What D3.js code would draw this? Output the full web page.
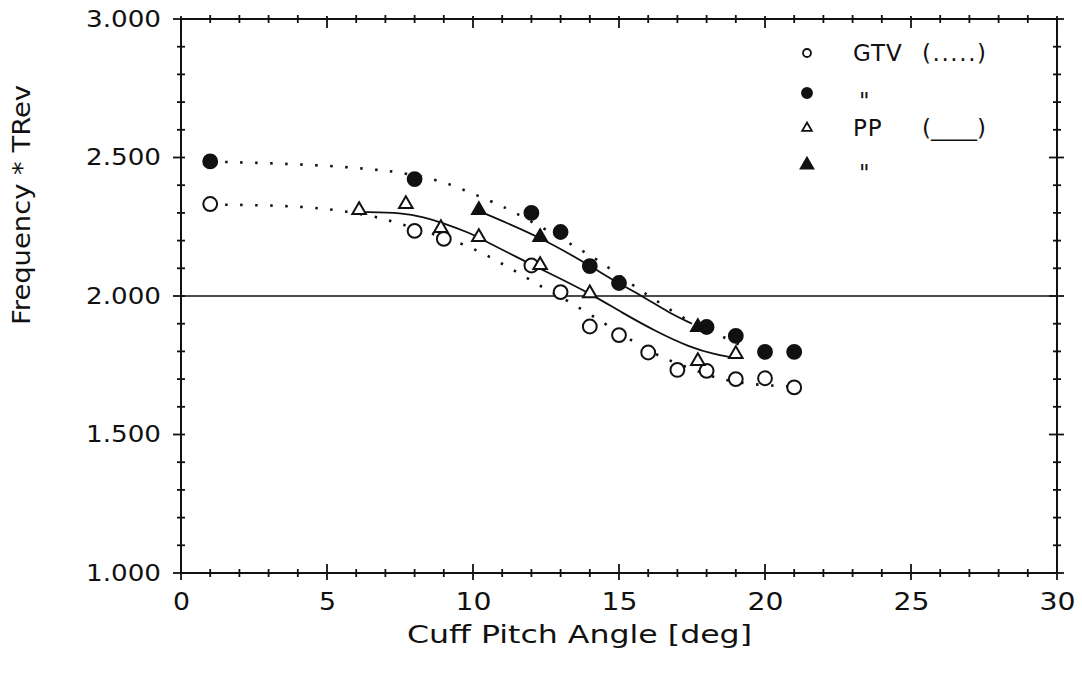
<!DOCTYPE html>
<meta charset="utf-8">
<body style="margin:0;background:#fff">
<div id="box"></div>
<script src="https://d3js.org/d3.v7.min.js"></script>
<script>
// measured points (x in deg, y in Frequency*TRev)
var gtvOpenX = [1, 8, 9, 12, 13, 14, 15, 16, 17, 18, 19, 20, 21];
var gtvOpenY = [2.332, 2.235, 2.206, 2.110, 2.014, 1.890, 1.859, 1.796, 1.733, 1.730, 1.700, 1.703, 1.670];
var gtvFillX = [1, 8, 12, 13, 14, 15, 18, 19, 20, 21];
var gtvFillY = [2.486, 2.422, 2.300, 2.231, 2.108, 2.047, 1.888, 1.856, 1.798, 1.798];
var ppOpenX = [6.1, 7.7, 8.9, 10.2, 12.3, 14.0, 17.7, 19.0];
var ppOpenY = [2.310, 2.332, 2.245, 2.213, 2.112, 2.010, 1.765, 1.790];
var ppFillX = [10.2, 12.3, 17.7];
var ppFillY = [2.310, 2.213, 1.888];

// fitted curves
var gtvOpenFitX = [1, 3, 5, 6.75, 7.2, 8.0, 9.66, 10.6, 11.5, 12.4, 13.3, 14.6, 15.5, 16.4, 17.4, 18.4, 19.4, 20.4, 21];
var gtvOpenFitY = [2.330, 2.328, 2.318, 2.285, 2.270, 2.245, 2.190, 2.140, 2.087, 2.030, 1.980, 1.895, 1.834, 1.780, 1.740, 1.700, 1.682, 1.676, 1.672];
var gtvFillFitX = [1, 3, 5.2, 6.75, 7.3, 8.8, 9.7, 10.65, 11.1, 12.5, 13.4, 14.3, 15.5, 16.4, 17.3, 18.3, 19.2];
var gtvFillFitY = [2.485, 2.480, 2.470, 2.455, 2.450, 2.420, 2.383, 2.340, 2.320, 2.240, 2.184, 2.130, 2.036, 1.975, 1.913, 1.866, 1.820];
var ppOpenFitX = [6.2, 7.6, 8.3, 9.0, 9.9, 10.2, 11.5, 12.6, 14, 15.1, 16.3, 17.4, 18.35, 18.8];
var ppOpenFitY = [2.303, 2.300, 2.285, 2.263, 2.227, 2.210, 2.140, 2.083, 2.010, 1.940, 1.870, 1.816, 1.787, 1.780];
var ppFillFitX = [10.35, 12.3, 14, 14.9, 15.8, 16.7, 17.5];
var ppFillFitY = [2.300, 2.213, 2.110, 2.050, 2.000, 1.940, 1.900];

var xTicks = [0, 5, 10, 15, 20, 25, 30];
var yTicks = [1.0, 1.5, 2.0, 2.5, 3.0];
var refY = 2.0;

var width = 1082, height = 681;
var plotL = 181, plotR = 1057, plotT = 19, plotB = 573;
var font = "'DejaVu Sans', sans-serif";
var ink = "#111";

var svg = d3.select("#box").append("svg")
  .attr("width", width)
  .attr("height", height);

var x = d3.scaleLinear().domain([0, 30]).range([plotL, plotR]);
var y = d3.scaleLinear().domain([1, 3]).range([plotB, plotT]);

function zip(xs, ys) {
  return xs.map(function(v, i) { return [v, ys[i]]; });
}

// frame
svg.append("rect")
  .attr("x", plotL).attr("y", plotT)
  .attr("width", plotR - plotL).attr("height", plotB - plotT)
  .attr("fill", "none").attr("stroke", ink).attr("stroke-width", 2);

// tick crosses on all four sides
var xMinor = d3.range(0, 31, 1);
var yMinor = d3.range(10, 31, 1).map(function(d) { return d / 10; });

var ticks = svg.append("g").attr("stroke", ink).attr("stroke-width", 1.8);
xMinor.forEach(function(v) {
  var major = v % 5 === 0;
  ticks.append("line")
    .attr("x1", x(v)).attr("x2", x(v))
    .attr("y1", plotB - (major ? 9 : 4)).attr("y2", plotB + (major ? 7 : 4));
  ticks.append("line")
    .attr("x1", x(v)).attr("x2", x(v))
    .attr("y1", plotT - (major ? 3 : 4)).attr("y2", plotT + (major ? 9 : 4));
});
yMinor.forEach(function(v) {
  var major = Math.round(v * 10) % 5 === 0;
  ticks.append("line")
    .attr("y1", y(v)).attr("y2", y(v))
    .attr("x1", plotL - (major ? 8 : 4)).attr("x2", plotL + 4);
  ticks.append("line")
    .attr("y1", y(v)).attr("y2", y(v))
    .attr("x1", plotR - (major ? 8 : 4)).attr("x2", plotR + (major ? 7 : 4));
});

// tick labels through the axis generators
var xAxis = svg.append("g")
  .attr("transform", "translate(0," + plotB + ")")
  .call(d3.axisBottom(x).tickValues(xTicks).tickSize(0).tickPadding(19).tickFormat(d3.format("d")));
var yAxis = svg.append("g")
  .attr("transform", "translate(" + plotL + ",0)")
  .call(d3.axisLeft(y).tickValues(yTicks).tickSize(0).tickPadding(20).tickFormat(d3.format(".3f")));
xAxis.select(".domain").remove();
yAxis.select(".domain").remove();
xAxis.selectAll("text")
  .style("font-family", font)
  .style("font-size", "25px")
  .attr("textLength", function(d) { return String(d).length === 1 ? 17 : 36; })
  .attr("lengthAdjust", "spacingAndGlyphs")
  .attr("fill", ink);
yAxis.selectAll("text")
  .style("font-family", font)
  .style("font-size", "23px")
  .attr("textLength", 75)
  .attr("lengthAdjust", "spacingAndGlyphs")
  .attr("fill", ink);

// reference line
svg.append("line")
  .attr("x1", x(0)).attr("x2", x(30))
  .attr("y1", y(refY)).attr("y2", y(refY))
  .attr("stroke", ink).attr("stroke-width", 1.6);

// curves
var path = d3.line()
  .x(function(d) { return x(d[0]); })
  .y(function(d) { return y(d[1]); })
  .curve(d3.curveBasis);

[[gtvOpenFitX, gtvOpenFitY], [gtvFillFitX, gtvFillFitY]].forEach(function(c) {
  svg.append("path")
    .attr("d", path(zip(c[0], c[1])))
    .attr("fill", "none").attr("stroke", ink)
    .attr("stroke-width", 2.6).attr("stroke-dasharray", "2.5,12.5");
});
[[ppOpenFitX, ppOpenFitY], [ppFillFitX, ppFillFitY]].forEach(function(c) {
  svg.append("path")
    .attr("d", path(zip(c[0], c[1])))
    .attr("fill", "none").attr("stroke", ink)
    .attr("stroke-width", 1.8);
});

// markers
var circ = d3.symbol().type(d3.symbolCircle).size(150);
var tri = d3.symbol().type(d3.symbolTriangle).size(80);

function markers(xs, ys, sym, filled) {
  svg.append("g").selectAll("path")
    .data(zip(xs, ys))
    .enter().append("path")
    .attr("transform", function(d) { return "translate(" + x(d[0]) + "," + y(d[1]) + ")"; })
    .attr("d", sym)
    .attr("fill", filled ? ink : "#fff")
    .attr("stroke", ink)
    .attr("stroke-width", 2);
}
markers(gtvOpenX, gtvOpenY, circ, false);
markers(gtvFillX, gtvFillY, circ, true);
markers(ppOpenX, ppOpenY, tri, false);
markers(ppFillX, ppFillY, tri, true);

// legend
var legend = [
  { sym: d3.symbolCircle, size: 50, fill: false, label: "GTV", style: "(.....)", y: 53 },
  { sym: d3.symbolCircle, size: 80, fill: true, label: "\"", style: "", y: 93 },
  { sym: d3.symbolTriangle, size: 40, fill: false, label: "PP", style: "(____)", y: 128 },
  { sym: d3.symbolTriangle, size: 70, fill: true, label: "\"", style: "", y: 165 }
];
var lg = svg.append("g");
legend.forEach(function(d) {
  var ditto = d.label === "\"";
  lg.append("path")
    .attr("transform", "translate(807," + d.y + ")")
    .attr("d", d3.symbol().type(d.sym).size(d.size)())
    .attr("fill", d.fill ? ink : "#fff")
    .attr("stroke", ink).attr("stroke-width", 1.8);
  lg.append("text")
    .attr("x", ditto ? 859 : 853)
    .attr("y", d.y + (ditto ? 16 : 8))
    .style("font-family", font).style("font-size", "23px")
    .style("letter-spacing", "1px")
    .attr("fill", ink)
    .text(d.label);
  if (d.style) {
    lg.append("text")
      .attr("x", 922).attr("y", d.y + 8)
      .style("font-family", font).style("font-size", "23px")
      .attr("textLength", 64)
      .attr("lengthAdjust", "spacing")
      .attr("fill", ink)
      .text(d.style);
  }
});

// axis titles
svg.append("text")
  .attr("x", 407).attr("y", 643)
  .style("font-family", font).style("font-size", "24px")
  .attr("textLength", 345)
  .attr("lengthAdjust", "spacingAndGlyphs")
  .attr("fill", ink)
  .text("Cuff Pitch Angle [deg]");
svg.append("text")
  .attr("transform", "translate(30,325) rotate(-90)")
  .style("font-family", font).style("font-size", "24px")
  .attr("textLength", 240)
  .attr("lengthAdjust", "spacingAndGlyphs")
  .attr("fill", ink)
  .text("Frequency * TRev");
</script>
</body>
